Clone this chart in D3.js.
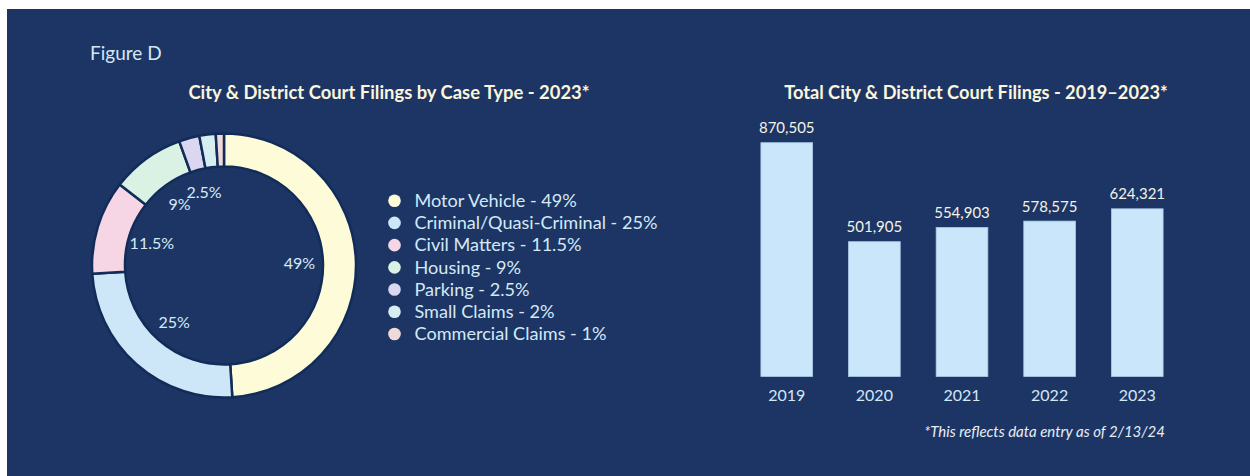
<!DOCTYPE html>
<html>
<head>
<meta charset="utf-8">
<script src="https://cdn.jsdelivr.net/npm/d3@7"></script>
<style>
  html, body { margin: 0; padding: 0; background: #ffffff; }
  svg { display: block; }
  text { font-family: Lato, "Open Sans", sans-serif; }
</style>
</head>
<body>
<svg id="chart" width="1250" height="476"></svg>
<script>
// Case-type shares for 2023
const caseTypes = ["Motor Vehicle", "Criminal/Quasi-Criminal", "Civil Matters", "Housing", "Parking", "Small Claims", "Commercial Claims"];
const caseShares = [49, 25, 11.5, 9, 2.5, 2, 1];
const caseColors = ["#fdfbd8", "#cde7f8", "#f6d6e4", "#d9f2e4", "#dcd7f1", "#d7eef1", "#f0dad9"];
// Shares that get a label inside the ring
const ringLabelled = ["Motor Vehicle", "Criminal/Quasi-Criminal", "Civil Matters", "Housing", "Parking"];

// Total filings per year
const years = ["2019", "2020", "2021", "2022", "2023"];
const filings = [870505, 501905, 554903, 578575, 624321];

const bg = "#1d3564";
const svg = d3.select("#chart");

// panel background
svg.append("rect").attr("x", 7).attr("y", 9).attr("width", 1243).attr("height", 467).attr("fill", bg);

svg.append("text").attr("x", 90).attr("y", 60)
  .attr("font-size", 19).attr("fill", "#d3e8f6").text("Figure D");

// ---------- Donut ----------
svg.append("text").attr("x", 389).attr("y", 98.5).attr("text-anchor", "middle")
  .attr("font-size", 18.4).attr("font-weight", 700).attr("fill", "#fbf6dc")
  .text("City & District Court Filings by Case Type - 2023*");

const cx = 224, cy = 265.5;
const donut = svg.append("g").attr("transform", `translate(${cx},${cy})`);
const pie = d3.pie().sort(null).value(d => d.v);
const slices = pie(caseTypes.map((t, i) => ({ t, v: caseShares[i], c: caseColors[i] })));
const arc = d3.arc().innerRadius(99).outerRadius(132);
donut.selectAll("path.slice").data(slices).join("path")
  .attr("class", "slice")
  .attr("d", arc)
  .attr("fill", d => d.data.c)
  .attr("stroke", "#112c58").attr("stroke-width", 2.5);

const labelArc = d3.arc().innerRadius(75.5).outerRadius(75.5);
donut.selectAll("text.pct").data(slices.filter(d => ringLabelled.includes(d.data.t))).join("text")
  .attr("class", "pct")
  .attr("transform", d => `translate(${labelArc.centroid(d)})`)
  .attr("text-anchor", "middle").attr("dy", "0.35em")
  .attr("font-size", 16).attr("fill", "#d6ebf8")
  .text(d => d.data.v + "%");

// legend
const legend = svg.append("g");
const rowY = d3.scalePoint().domain(caseTypes).range([200.7, 334]);
const rows = legend.selectAll("g").data(caseTypes).join("g")
  .attr("transform", t => `translate(394.5,${rowY(t)})`);
rows.append("circle").attr("r", 6.3).attr("fill", (t, i) => caseColors[i]);
rows.append("text").attr("x", 20).attr("dy", "0.35em")
  .attr("font-size", 18.1).attr("fill", "#d4e9f7")
  .text((t, i) => `${t} - ${caseShares[i]}%`);

// ---------- Bars ----------
svg.append("text").attr("x", 976).attr("y", 98.5).attr("text-anchor", "middle")
  .attr("font-size", 18.2).attr("font-weight", 700).attr("fill", "#fbf6dc")
  .text("Total City & District Court Filings - 2019\u20132023*");

const x = d3.scaleBand().domain(years).range([739, 1185]).paddingInner(0.41).paddingOuter(0.25);
const y = d3.scaleLinear().domain([0, d3.max(filings)]).range([376.5, 142.7]);
const bars = svg.append("g");
bars.selectAll("rect").data(years).join("rect")
  .attr("x", d => x(d)).attr("width", x.bandwidth())
  .attr("y", (d, i) => y(filings[i])).attr("height", (d, i) => y(0) - y(filings[i]))
  .attr("fill", "#c9e6fa").attr("stroke", "#a9cbe6").attr("stroke-width", 0.8);

bars.selectAll("text.val").data(years).join("text")
  .attr("class", "val")
  .attr("x", d => x(d) + x.bandwidth() / 2)
  .attr("y", (d, i) => y(filings[i]) - 9.5)
  .attr("text-anchor", "middle").attr("font-size", 15).attr("fill", "#f4f3e6")
  .text((d, i) => d3.format(",")(filings[i]));

const xAxis = svg.append("g").attr("transform", `translate(0,${y(0)})`)
  .call(d3.axisBottom(x).tickSize(0).tickPadding(13.5));
xAxis.select(".domain").remove();
xAxis.selectAll("text").attr("font-size", 16).attr("fill", "#d2e8f7")
  .attr("font-family", "Lato, 'Open Sans', sans-serif");

svg.append("text").attr("x", 1165).attr("y", 437).attr("text-anchor", "end")
  .attr("font-size", 15).attr("font-style", "italic").attr("fill", "#e6eef5")
  .text("*This reflects data entry as of 2/13/24");
</script>
</body>
</html>
